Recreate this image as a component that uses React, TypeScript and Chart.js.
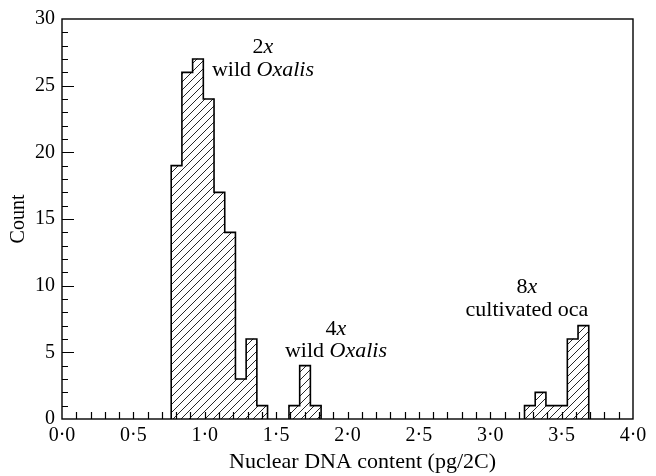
import React, { useEffect, useRef } from "react";
import { Chart, registerables } from "chart.js";

Chart.register(...registerables);

// Histogram bins (left edges, pg/2C) and counts
const binWidth = 0.075;
const binEdges = [
  0.765, 0.84, 0.915, 0.99, 1.065, 1.14, 1.215, 1.29, 1.365,
  1.59, 1.665, 1.74,
  3.24, 3.315, 3.39, 3.465, 3.54, 3.615,
];
const binCounts = [
  19, 26, 27, 24, 17, 14, 3, 6, 1,
  1, 4, 1,
  1, 2, 1, 1, 6, 7,
];

const xMin = 0;
const xMax = 4;
const xMajorStep = 0.5;
const xMinorStep = 0.1;
const yMin = 0;
const yMax = 30;
const yMajorStep = 5;
const yMinorStep = 1;

const xTitle = "Nuclear DNA content (pg/2C)";
const yTitle = "Count";

// Annotation labels (anchor in data units, text baseline)
const annotations = [
  { x: 1.408, y: 27.45, parts: [{ t: "2", i: false }, { t: "x", i: true }] },
  { x: 1.408, y: 25.75, parts: [{ t: "wild ", i: false }, { t: "Oxalis", i: true }] },
  { x: 1.919, y: 6.3, parts: [{ t: "4", i: false }, { t: "x", i: true }] },
  { x: 1.919, y: 4.62, parts: [{ t: "wild ", i: false }, { t: "Oxalis", i: true }] },
  { x: 3.257, y: 9.45, parts: [{ t: "8", i: false }, { t: "x", i: true }] },
  { x: 3.257, y: 7.72, parts: [{ t: "cultivated oca", i: false }] },
];

const FONT = "'Liberation Serif', 'Times New Roman', serif";

function makeHatch(): CanvasPattern | string {
  const s = 8;
  const c = document.createElement("canvas");
  c.width = s;
  c.height = s;
  const g = c.getContext("2d");
  if (!g) return "#fff";
  g.fillStyle = "#ffffff";
  g.fillRect(0, 0, s, s);
  g.strokeStyle = "#000";
  g.lineWidth = 0.85;
  g.beginPath();
  g.moveTo(0, s);
  g.lineTo(s, 0);
  g.moveTo(-1, 1);
  g.lineTo(1, -1);
  g.moveTo(s - 1, s + 1);
  g.lineTo(s + 1, s - 1);
  g.stroke();
  const p = g.createPattern(c, "repeat");
  return p || "#fff";
}

function outlinePoints() {
  const pts: { x: number; y: number | null }[] = [];
  for (let i = 0; i < binEdges.length; i++) {
    const e = binEdges[i];
    const c = binCounts[i];
    const prevContig = i > 0 && Math.abs(binEdges[i - 1] + binWidth - e) < 1e-6;
    if (!prevContig) {
      if (i > 0) pts.push({ x: e, y: null });
      pts.push({ x: e, y: 0 });
    }
    pts.push({ x: e, y: c });
    pts.push({ x: e + binWidth, y: c });
    const nextContig =
      i < binEdges.length - 1 && Math.abs(e + binWidth - binEdges[i + 1]) < 1e-6;
    if (!nextContig) pts.push({ x: e + binWidth, y: 0 });
  }
  return pts;
}

const framePlugin = {
  id: "frameTicks",
  afterDatasetsDraw(chart: any) {
    const { ctx, chartArea } = chart;
    const xs = chart.scales.x;
    const ys = chart.scales.y;
    ctx.save();
    ctx.strokeStyle = "#000";
    ctx.lineWidth = 1.2;
    ctx.beginPath();
    // x minor ticks (inward)
    const nx = Math.round((xMax - xMin) / xMinorStep);
    for (let k = 1; k < nx; k++) {
      const v = xMin + k * xMinorStep;
      const px = Math.round(xs.getPixelForValue(v)) + 0.5;
      ctx.moveTo(px, chartArea.bottom);
      ctx.lineTo(px, chartArea.bottom - 7);
    }
    // y ticks (inward)
    const ny = Math.round((yMax - yMin) / yMinorStep);
    for (let k = 1; k < ny; k++) {
      const v = yMin + k * yMinorStep;
      const py = Math.round(ys.getPixelForValue(v)) + 0.5;
      const major = Math.abs(v / yMajorStep - Math.round(v / yMajorStep)) < 1e-6;
      ctx.moveTo(chartArea.left, py);
      ctx.lineTo(chartArea.left + (major ? 12 : 6), py);
    }
    ctx.stroke();
    ctx.lineWidth = 1.4;
    ctx.strokeRect(
      chartArea.left,
      chartArea.top,
      chartArea.right - chartArea.left,
      chartArea.bottom - chartArea.top
    );
    ctx.restore();
  },
  afterDraw(chart: any) {
    const { ctx, chartArea } = chart;
    const xs = chart.scales.x;
    const ys = chart.scales.y;
    ctx.save();
    ctx.fillStyle = "#000";
    ctx.textBaseline = "alphabetic";
    for (const a of annotations) {
      let total = 0;
      const widths: number[] = [];
      for (const p of a.parts) {
        ctx.font = `${p.i ? "italic " : ""}22px ${FONT}`;
        const w = ctx.measureText(p.t).width;
        widths.push(w);
        total += w;
      }
      let x = xs.getPixelForValue(a.x) - total / 2;
      const y = ys.getPixelForValue(a.y);
      a.parts.forEach((p, idx) => {
        ctx.font = `${p.i ? "italic " : ""}22px ${FONT}`;
        ctx.textAlign = "left";
        ctx.fillText(p.t, x, y);
        x += widths[idx];
      });
    }
    // x-axis title (slightly right of plot centre, as in the original)
    ctx.font = `22px ${FONT}`;
    ctx.textAlign = "center";
    ctx.textBaseline = "alphabetic";
    const cx = (chartArea.left + chartArea.right) / 2 + 15;
    ctx.fillText(xTitle, cx, chartArea.bottom + 49);
    ctx.restore();
  },
};

export default function App() {
  const ref = useRef<HTMLCanvasElement | null>(null);

  useEffect(() => {
    document.body.style.margin = "0";
    const canvas = ref.current;
    if (!canvas) return;
    const hatch = makeHatch();
    const barData = binEdges.map((e, i) => ({ x: e + binWidth / 2, y: binCounts[i] }));

    const chart = new Chart(canvas, {
      type: "bar",
      data: {
        datasets: [
          {
            type: "bar",
            data: barData as any,
            backgroundColor: hatch as any,
            borderWidth: 0,
            barPercentage: 1,
            categoryPercentage: 1,
            order: 2,
          },
          {
            type: "line",
            data: outlinePoints() as any,
            borderColor: "#000",
            borderWidth: 1.6,
            pointRadius: 0,
            fill: false,
            tension: 0,
            spanGaps: false,
            order: 1,
          } as any,
        ],
      },
      options: {
        responsive: false,
        animation: false,
        events: [],
        layout: { padding: { top: 19, right: 23, left: 0, bottom: 0 } },
        plugins: {
          legend: { display: false },
          tooltip: { enabled: false },
        },
        scales: {
          x: {
            type: "linear",
            min: xMin,
            max: xMax,
            offset: false,
            grid: { display: false, drawTicks: false },
            border: { display: false },
            ticks: {
              stepSize: xMajorStep,
              color: "#000",
              padding: 5,
              maxRotation: 0,
              font: { family: FONT, size: 20 },
              callback: (v: any) => Number(v).toFixed(1).replace(".", "\u00B7"),
            },
            title: { display: false, text: xTitle },
            afterFit: (s: any) => {
              s.height = 57;
            },
          },
          y: {
            min: yMin,
            max: yMax,
            grid: { display: false, drawTicks: false },
            border: { display: false },
            ticks: {
              stepSize: yMajorStep,
              color: "#000",
              padding: 7,
              font: { family: FONT, size: 20 },
            },
            title: {
              display: true,
              text: yTitle,
              color: "#000",
              font: { family: FONT, size: 20 },
              padding: { top: 7, bottom: 0 },
            },
            afterFit: (s: any) => {
              s.width = 62;
            },
          },
        },
      },
      plugins: [framePlugin],
    });
    return () => chart.destroy();
  }, []);

  return (
    <div style={{ position: "absolute", left: 0, top: 0, width: 656, height: 476, background: "#fff" }}>
      <canvas ref={ref} width={656} height={476} />
    </div>
  );
}
